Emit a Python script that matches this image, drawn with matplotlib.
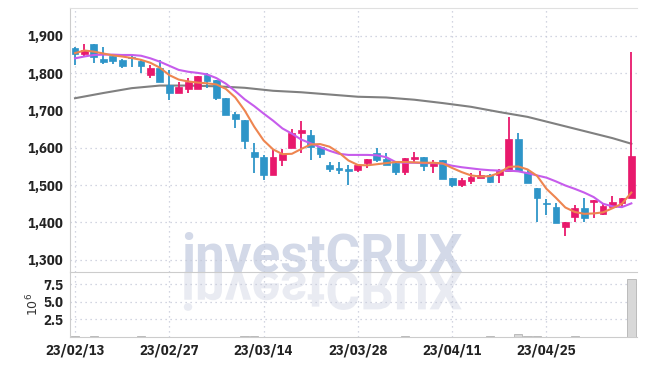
import matplotlib
matplotlib.use("Agg")
import matplotlib.pyplot as plt
import numpy as np
from matplotlib.textpath import TextPath
from matplotlib.patches import PathPatch, Rectangle
from matplotlib.font_manager import FontProperties
from matplotlib.transforms import Affine2D
from matplotlib.ticker import FuncFormatter

# daily OHLC, 60 trading days starting 23/02/13
opens = [1867, 1852, 1879, 1838, 1846, 1836, 1844, 1834, 1794, 1815,
         1769, 1748, 1758, 1758, 1794, 1782, 1734, 1692, 1675, 1589,
         1575, 1527, 1568, 1599, 1639, 1635, 1601, 1554, 1545, 1543,
         1541, 1559, 1587, 1569, 1560, 1534, 1570, 1575, 1550, 1567,
         1518, 1500, 1512, 1518, 1527, 1527, 1538, 1624, 1536, 1492,
         1452, 1441, 1387, 1414, 1438, 1454, 1423, 1442, 1453, 1465]
highs = [1870, 1879, 1879, 1871, 1849, 1838, 1846, 1838, 1822, 1836,
         1810, 1777, 1787, 1793, 1802, 1782, 1734, 1697, 1675, 1612,
         1581, 1596, 1596, 1650, 1673, 1648, 1601, 1563, 1563, 1554,
         1554, 1570, 1599, 1586, 1560, 1572, 1588, 1575, 1567, 1567,
         1518, 1518, 1532, 1539, 1529, 1543, 1684, 1641, 1543, 1492,
         1462, 1451, 1402, 1447, 1465, 1460, 1451, 1471, 1466, 1858]
lows = [1822, 1846, 1827, 1824, 1824, 1813, 1818, 1800, 1787, 1777,
        1727, 1746, 1748, 1758, 1760, 1728, 1688, 1654, 1596, 1533,
        1514, 1527, 1551, 1599, 1586, 1568, 1572, 1534, 1530, 1501,
        1534, 1545, 1563, 1554, 1527, 1528, 1563, 1539, 1532, 1517,
        1496, 1495, 1503, 1518, 1505, 1505, 1538, 1538, 1505, 1402,
        1420, 1399, 1364, 1400, 1400, 1411, 1420, 1442, 1442, 1465]
closes = [1852, 1862, 1843, 1830, 1834, 1820, 1841, 1820, 1815, 1777,
          1748, 1762, 1776, 1793, 1779, 1733, 1688, 1677, 1619, 1576,
          1527, 1575, 1584, 1639, 1648, 1601, 1584, 1543, 1541, 1539,
          1554, 1570, 1567, 1554, 1534, 1572, 1576, 1550, 1561, 1517,
          1500, 1514, 1523, 1527, 1509, 1538, 1624, 1538, 1505, 1465,
          1450, 1399, 1402, 1438, 1411, 1460, 1444, 1455, 1466, 1578]

# volume in millions
volumes = [0.15, 0.02, 0.15, 0.02, 0.02, 0.02, 0.02, 0.15, 0.02, 0.02,
           0.02, 0.02, 0.02, 0.02, 0.02, 0.02, 0.02, 0.02, 0.15, 0.15,
           0.02, 0.02, 0.02, 0.02, 0.02, 0.02, 0.02, 0.02, 0.02, 0.02,
           0.02, 0.02, 0.02, 0.02, 0.02, 0.15, 0.02, 0.02, 0.02, 0.02,
           0.02, 0.02, 0.02, 0.02, 0.15, 0.02, 0.02, 0.45, 0.15, 0.15,
           0.02, 0.02, 0.02, 0.15, 0.02, 0.02, 0.02, 0.02, 0.02, 8.15]

# moving average lines
ma_short = [1854, 1861, 1858, 1853, 1848, 1845, 1841, 1836, 1828, 1815,
            1795, 1783, 1778, 1775, 1773, 1770, 1758, 1735, 1700, 1657,
            1620, 1596, 1583, 1584, 1597, 1609, 1610, 1603, 1587, 1566,
            1554, 1553, 1556, 1559, 1562, 1562, 1561, 1560, 1560, 1558,
            1546, 1535, 1526, 1523, 1524, 1533, 1549, 1550, 1542, 1525,
            1490, 1466, 1440, 1428, 1423, 1424, 1427, 1438, 1450, 1480]
ma_mid = [1840, 1845, 1849, 1850, 1850, 1849, 1849, 1847, 1840, 1831,
          1820, 1809, 1804, 1801, 1797, 1787, 1772, 1752, 1730, 1712,
          1692, 1673, 1652, 1638, 1622, 1612, 1602, 1592, 1584, 1581,
          1581, 1581, 1580, 1575, 1562, 1560, 1560, 1559, 1559, 1558,
          1552, 1548, 1545, 1542, 1540, 1539, 1539, 1537, 1532, 1526,
          1520, 1510, 1499, 1490, 1480, 1468, 1450, 1443, 1441, 1451]
ma_long_idx = [0, 3, 6, 9, 12, 15, 18, 21, 24, 27, 30, 33, 36, 39, 42, 45, 48, 51, 54, 57, 59]
ma_long = [1733, 1747, 1760, 1767, 1767, 1765, 1761, 1753, 1749, 1743, 1737,
           1735, 1729, 1720, 1710, 1696, 1683, 1664, 1645, 1626, 1611]

tick_idx = [0, 10, 20, 30, 40, 50]
tick_labels = ["23/02/13", "23/02/27", "23/03/14", "23/03/28", "23/04/11", "23/04/25"]
price_ticks = [1300, 1400, 1500, 1600, 1700, 1800, 1900]
vol_ticks = [2.5, 5.0, 7.5]

RED = "#e8196c"
BLUE = "#2e95c8"
GRID = "#c4c8d8"
FONT = ["IBM Plex Sans Condensed", "DejaVu Sans"]

fig = plt.figure(figsize=(6.45, 3.66), dpi=100)
ax = fig.add_axes([70 / 645, 1 - 272 / 366, 567 / 645, 264 / 366])
axv = fig.add_axes([70 / 645, 1 - 337 / 366, 567 / 645, 65 / 366], sharex=ax)
for a in (ax, axv):
    a.set_facecolor("none")

# watermark text + mirrored reflection
wm_px = 53.0
base = 366 - 271.7
fig.text(181 / 645, base / 366, "investCRUX", family="Roboto", weight="bold",
         fontsize=wm_px * 72 / 100, color="#d3d9e8", ha="left", va="baseline", zorder=-5)
fp = FontProperties(family="Roboto", weight="bold")
tp = TextPath((0, 0), "investCRUX", size=wm_px, prop=fp)
to_fig = Affine2D().scale(1 / 645, 1 / 366) + fig.transFigure
flip = Affine2D().scale(1, -1).translate(181, base) + to_fig
fig.patches.append(PathPatch(tp, transform=flip, facecolor="#e9ebf2", edgecolor="none", zorder=-5))

x = np.arange(len(opens))
for i in x:
    o, h, l, c = opens[i], highs[i], lows[i], closes[i]
    col = RED if c > o else BLUE
    ax.vlines(i, l, h, color=col, lw=1.3, zorder=3)
    body = max(abs(c - o), 1.5)
    ax.add_patch(Rectangle((i - 0.36, min(o, c)), 0.72, body, facecolor=col,
                           edgecolor=col, lw=0.5, zorder=4))

ax.plot(ma_long_idx, ma_long, color="#808080", lw=1.5, zorder=2)
ax.plot(x, ma_mid, color="#c65cec", lw=1.5, zorder=5)
ax.plot(x, ma_short, color="#ee8550", lw=1.5, zorder=5)

axv.bar(x, volumes, width=0.9, color="#d8d8d8", edgecolor="#b4b4b4", lw=0.6, zorder=3)

ax.set_xlim(-0.53, 59.6)
ax.set_ylim(1267, 1975)
axv.set_ylim(0, 9.2)

ax.set_yticks(price_ticks)
ax.yaxis.set_major_formatter(FuncFormatter(lambda v, p: f"{int(v):,}"))
axv.set_yticks(vol_ticks)
axv.set_xticks(tick_idx)
axv.set_xticklabels(tick_labels)
ax.tick_params(axis="x", labelbottom=False)

for a in (ax, axv):
    a.grid(True, linestyle=(0, (1, 3)), color=GRID, lw=0.9)
    a.set_axisbelow(True)
    a.tick_params(length=0, pad=5, labelsize=10.5, labelcolor="#222222")
    for lab in a.get_xticklabels() + a.get_yticklabels():
        lab.set_family(FONT)
        lab.set_fontweight("bold")
    a.spines["right"].set_visible(False)
    a.spines["left"].set_color("#cccccc")
    a.spines["bottom"].set_color("#cccccc")
ax.spines["top"].set_color("#e0e0e0")
axv.spines["top"].set_visible(False)

axv.set_ylabel(r"$10^6$", fontsize=9, color="#333333", labelpad=1)

fig.savefig("out.png", dpi=100)
